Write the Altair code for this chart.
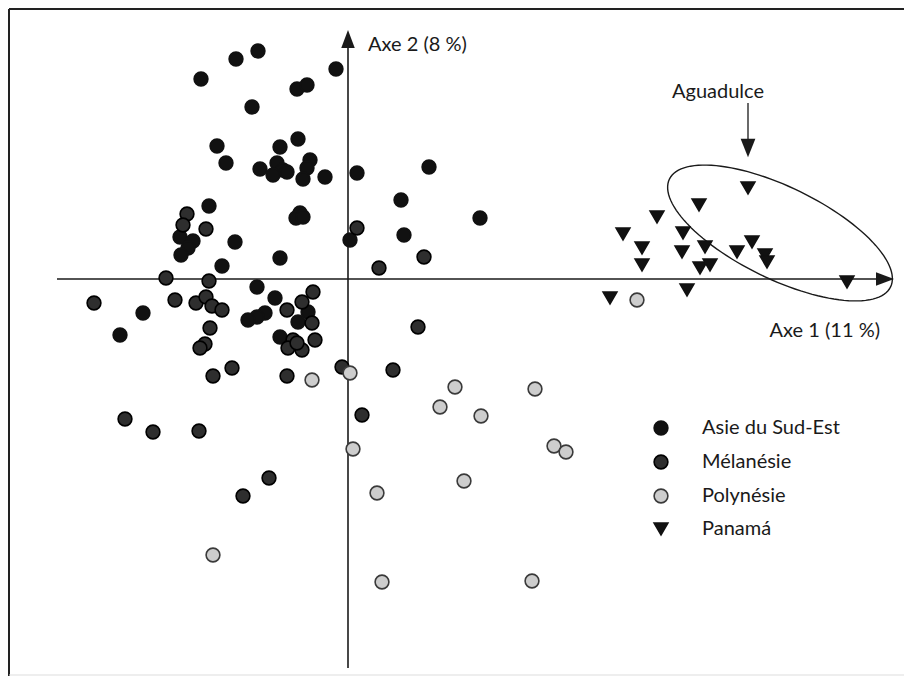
import altair as alt
import pandas as pd
import numpy as np

groups = ["Asie du Sud-Est", "Mélanésie", "Polynésie", "Panamá"]

asie_x = [-9.0, -11.2, -14.7, -1.2, -5.1, -4.1, -9.6, -13.1, -5.0, -12.2, -6.8, -8.8, -7.1, -6.5,
          -7.5, -6.1, -3.8, -4.1, -4.5, -2.3, 0.9, 8.1, 5.3, 13.2, 5.6, 0.2, -13.9, -4.8, -5.2,
          -4.5, -11.3, -6.8, -12.6, -16.8, -15.5, -16.0, -16.7, -9.1, -20.5, -22.8, -7.3, -8.3,
          -9.1, -10.0, -4.0, -5.0, -6.8]
asie_y = [22.8, 22.0, 20.0, 21.0, 19.0, 19.4, 17.2, 13.3, 14.0, 11.6, 13.2, 11.0, 11.6, 10.9,
          10.4, 10.7, 11.9, 11.1, 10.0, 10.2, 10.6, 11.2, 7.9, 6.1, 4.4, 3.9, 7.3, 6.6, 6.1,
          6.2, 3.7, 2.1, 1.3, 4.2, 3.8, 3.1, 2.4, -0.8, -3.4, -5.6, -1.9, -3.4,
          -3.8, -4.1, -3.3, -4.3, -5.8]

mela_x = [-16.1, -16.5, -14.2, 0.9, -18.2, -13.9, -25.4, -17.3, -15.2, -14.2, -13.6, -12.6, -13.8,
          -14.3, -14.8, -6.1, -3.5, -4.6, -3.6, -5.5, -3.3, -6.0, -4.6, -5.1, -11.6, -13.5, -6.1,
          -0.6, 4.5, 1.4, -22.3, -19.5, -14.9, -7.9, -10.5, 3.1, 7.6, 7.0]
mela_y = [6.5, 5.4, 5.0, 5.1, 0.1, -0.2, -2.4, -2.1, -2.4, -1.8, -2.7, -3.1, -4.9,
          -6.5, -6.9, -3.1, -1.3, -2.3, -4.4, -6.1, -6.1, -6.9, -7.1, -6.4, -8.9, -9.7, -9.7,
          -8.8, -9.1, -13.6, -14.0, -15.3, -15.2, -19.9, -21.7, 1.1, 2.2, -4.8]

poly_x = [0.2, -3.6, 10.7, 18.7, 9.2, 13.3, 0.5, 20.6, 21.8, 11.6, 2.9, 3.4, 18.4, -13.5, 28.9]
poly_y = [-9.4, -10.1, -10.8, -11.0, -12.8, -13.7, -17.0, -16.7, -17.3, -20.2, -21.4, -30.3,
          -30.2, -27.6, -2.1]

pana_x = [40.0, 35.1, 30.9, 27.5, 33.5, 29.4, 40.4, 33.4, 35.7, 38.9, 41.7, 41.9, 29.4, 35.2,
          36.2, 49.9, 33.9, 26.2]
pana_y = [9.1, 7.4, 6.2, 4.5, 4.6, 3.1, 3.7, 2.7, 3.2, 2.7, 2.4, 1.7, 1.4, 1.1,
          1.4, -0.3, -1.1, -1.9]

rows = []
for g, xs_, ys_ in zip(groups, [asie_x, mela_x, poly_x, pana_x], [asie_y, mela_y, poly_y, pana_y]):
    for a, b in zip(xs_, ys_):
        rows.append({"group": g, "x": a, "y": b})
df = pd.DataFrame(rows)

W, H = 896, 668
xsc = alt.Scale(domain=[-34.0, 55.6], nice=False, zero=False)
ysc = alt.Scale(domain=[-39.7, 27.1], nice=False, zero=False)

def X(f="x"):
    return alt.X(f, type="quantitative", scale=xsc, axis=None)

def Y(f="y"):
    return alt.Y(f, type="quantitative", scale=ysc, axis=None)

FONT = "Lato"
INK = "#1a1a1a"

# frame
frame_top = alt.Chart(pd.DataFrame({"a": [0]})).mark_rule(color="#222", strokeWidth=2).encode(
    x=alt.value(1), x2=alt.value(W), y=alt.value(1))
frame_left = alt.Chart(pd.DataFrame({"a": [0]})).mark_rule(color="#222", strokeWidth=2).encode(
    x=alt.value(1), y=alt.value(1), y2=alt.value(H))
frame_bottom = alt.Chart(pd.DataFrame({"a": [0]})).mark_rule(color="#ddd", strokeWidth=1).encode(
    x=alt.value(1), x2=alt.value(W), y=alt.value(H - 1))

# axes
axh = alt.Chart(pd.DataFrame({"x": [-29.1], "x2": [53.3], "y": [0.0]})).mark_rule(
    color=INK, strokeWidth=1.6).encode(x=X(), x2="x2", y=Y())
axv = alt.Chart(pd.DataFrame({"x": [0.0], "y": [-38.9], "y2": [23.5]})).mark_rule(
    color=INK, strokeWidth=1.6).encode(x=X(), y=Y(), y2="y2")

head_up = alt.Chart(pd.DataFrame({"x": [0.0], "y": [24.0]})).mark_point(
    shape="M0,-1L-0.75,1L0.75,1Z", filled=True, color=INK, size=324, opacity=1).encode(x=X(), y=Y())
head_right = alt.Chart(pd.DataFrame({"x": [53.7], "y": [0.0]})).mark_point(
    shape="M1,0L-1,-0.75L-1,0.75Z", filled=True, color=INK, size=324, opacity=1).encode(x=X(), y=Y())

# Aguadulce arrow
agu_line = alt.Chart(pd.DataFrame({"x": [40.0], "y": [17.6], "y2": [13.8]})).mark_rule(
    color=INK, strokeWidth=1.3).encode(x=X(), y=Y(), y2="y2")
agu_head = alt.Chart(pd.DataFrame({"x": [40.0], "y": [13.1]})).mark_point(
    shape="M0,1L-0.8,-1L0.8,-1Z", filled=True, color=INK, size=340, opacity=1).encode(x=X(), y=Y())

# ellipse around Aguadulce samples
cx, cy, ra, rb, ang = 43.2, 4.6, 12.3, 4.6, np.deg2rad(-26)
t = np.linspace(0, 2 * np.pi, 121)
ex = cx + ra * np.cos(t) * np.cos(ang) - rb * np.sin(t) * np.sin(ang)
ey = cy + ra * np.cos(t) * np.sin(ang) + rb * np.sin(t) * np.cos(ang)
ell = alt.Chart(pd.DataFrame({"x": ex, "y": ey, "i": np.arange(len(t))})).mark_line(
    color=INK, strokeWidth=1.4).encode(x=X(), y=Y(), order="i:Q")

# points
pts = alt.Chart(df).mark_point(filled=True, size=190, strokeWidth=1.6, opacity=1).encode(
    x=X(), y=Y(),
    shape=alt.Shape("group:N", scale=alt.Scale(domain=groups,
                    range=["circle", "circle", "circle", "triangle-down"]), title=None),
    fill=alt.Fill("group:N", scale=alt.Scale(domain=groups,
                  range=["#111111", "#2e2e2e", "#cdcdcd", "#111111"]), title=None),
    stroke=alt.Stroke("group:N", scale=alt.Scale(domain=groups,
                      range=["#111111", "#000000", "#3a3a3a", "#111111"]), title=None),
)

# labels
labels = pd.DataFrame({
    "t": ["Axe 2 (8 %)", "Axe 1 (11 %)", "Aguadulce"],
    "x": [2.0, 53.2, 37.0],
    "y": [23.4, -5.2, 18.7],
    "al": ["left", "right", "center"],
})
txt_l = alt.Chart(labels[labels.al == "left"]).mark_text(
    font=FONT, fontSize=20, color=INK, align="left", baseline="middle").encode(x=X(), y=Y(), text="t")
txt_r = alt.Chart(labels[labels.al == "right"]).mark_text(
    font=FONT, fontSize=20, color=INK, align="right", baseline="middle").encode(x=X(), y=Y(), text="t")
txt_c = alt.Chart(labels[labels.al == "center"]).mark_text(
    font=FONT, fontSize=20, color=INK, align="center", baseline="middle").encode(x=X(), y=Y(), text="t")

chart = alt.layer(
    frame_top, frame_left, frame_bottom, axh, axv, head_up, head_right, ell,
    pts, agu_line, agu_head, txt_l, txt_r, txt_c
).properties(
    width=W, height=H, autosize=alt.AutoSizeParams(type="none"), padding=0,
    background="white"
).configure_view(stroke=None).configure_legend(
    orient="none", legendX=643, legendY=410, padding=0,
    symbolSize=190, symbolStrokeWidth=1.6, labelFont=FONT, labelFontSize=20,
    labelColor=INK, labelOffset=31, rowPadding=12, labelLimit=300
)

chart.save("out.html", embed_options={"renderer": "svg", "actions": False})
